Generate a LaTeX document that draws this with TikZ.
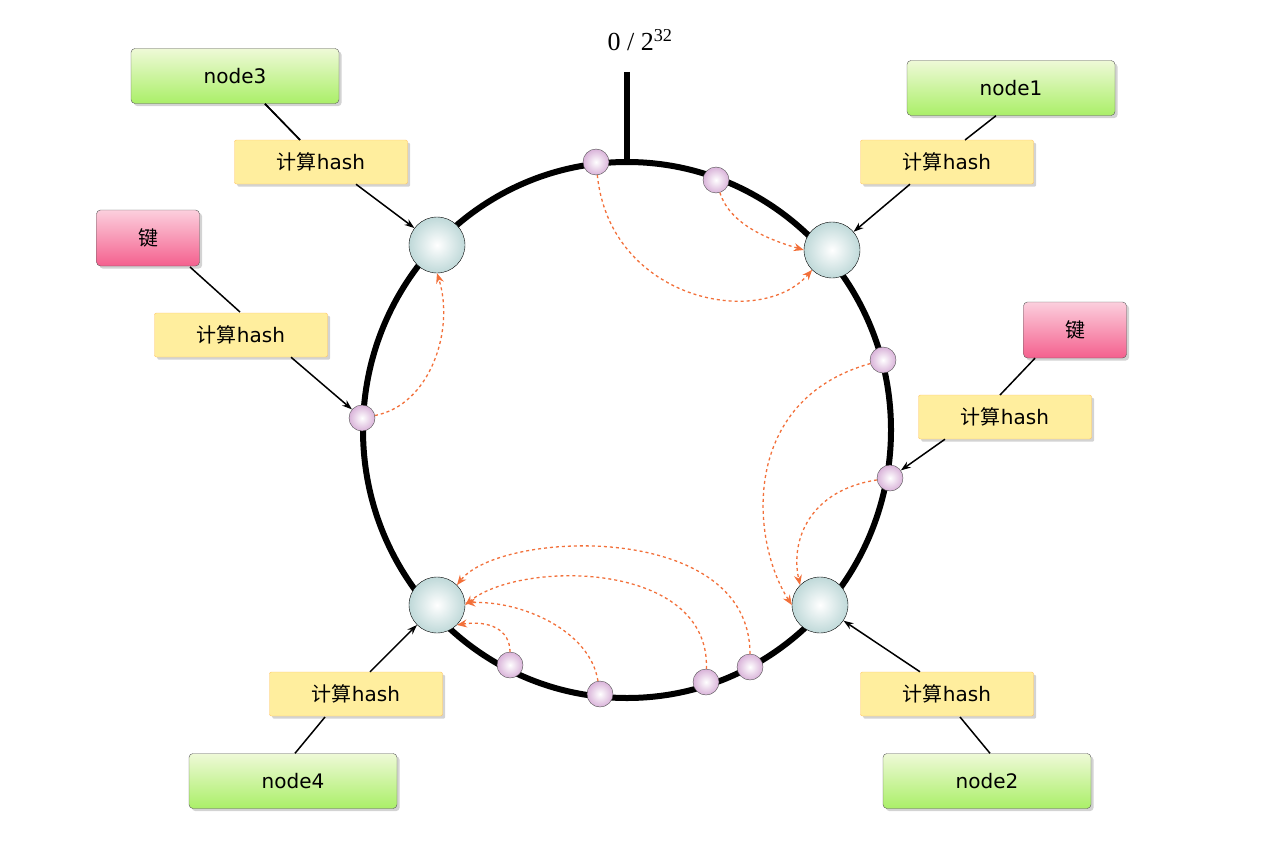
\documentclass[tikz,border=0pt]{standalone}
\usepackage{fontspec}
\setmainfont{DejaVu Sans}
\newfontfamily\cjk{Noto Sans CJK SC}
\newfontfamily\serif{Liberation Serif}
\usetikzlibrary{shadows,arrows.meta}
\definecolor{gfill}{HTML}{C8EC7A}
\definecolor{yfill}{HTML}{FFEE9E}
\definecolor{pfill}{HTML}{F4608E}
\definecolor{org}{HTML}{F2703A}
\begin{document}
\begin{tikzpicture}[x=1pt,y=-1pt,
 nbox/.style={draw=gray!70!black,rounded corners=4pt,minimum width=208pt,minimum height=55pt,top color=white!70!gfill,bottom color=gfill!85!green,font=\fontsize{20}{24}\selectfont,drop shadow={opacity=0.35}},
 hbox/.style={draw=yfill!60!orange,rounded corners=2pt,minimum width=173pt,minimum height=44pt,fill=yfill,font=\fontsize{20}{24}\selectfont,drop shadow={opacity=0.35}},
 kbox/.style={draw=gray!70!black,rounded corners=4pt,minimum width=103pt,minimum height=56pt,top color=pfill!30,bottom color=pfill,font=\cjk\fontsize{20}{24}\selectfont,drop shadow={opacity=0.35}},
 srv/.style={circle,draw=black,minimum size=56pt,inner sep=0pt,inner color=white,outer color=cyan!25!gray!40},
 pt/.style={circle,draw=gray!60!black,minimum size=26pt,inner sep=0pt,inner color=white,outer color=violet!30},
 blk/.style={black,line width=1.5pt},
 ar/.style={blk,-{Stealth[length=10pt,width=7pt]}},
 oa/.style={org,dashed,line width=1.3pt,-{Stealth[length=10pt,width=8pt]}}]
\useasboundingbox (0,0) rectangle (1266,867);
\draw[line width=6pt] (627,430) ellipse[x radius=264,y radius=268];
\draw[line width=6pt] (627,72) -- (627,162);
\node (lbl) at (640,40) {\serif\fontsize{26}{30}\selectfont 0 / 2\textsuperscript{32}};
% servers
\node[srv] (s3) at (437,245) {};
\node[srv] (s1) at (832,250) {};
\node[srv] (s4) at (437,605) {};
\node[srv] (s2) at (820,605) {};
% points
\node[pt] (p1) at (596,162) {};
\node[pt] (p2) at (716,180) {};
\node[pt] (p3) at (883,360) {};
\node[pt] (p4) at (890,478) {};
\node[pt] (p5) at (362,418) {};
\node[pt] (p6) at (510,665) {};
\node[pt] (p7) at (600,694) {};
\node[pt] (p8) at (706,682) {};
\node[pt] (p9) at (750,667) {};
% boxes
\node[nbox] (n3) at (235,76) {node3};
\node[hbox] (h3) at (321,162) {{\cjk 计算}hash};
\node[kbox] (k1) at (148,238) {键};
\node[hbox] (hk1) at (241,335) {{\cjk 计算}hash};
\node[nbox] (n1) at (1011,88) {node1};
\node[hbox] (h1) at (947,162) {{\cjk 计算}hash};
\node[kbox] (k2) at (1075,330) {键};
\node[hbox] (hk2) at (1005,417) {{\cjk 计算}hash};
\node[hbox] (h4) at (356,694) {{\cjk 计算}hash};
\node[nbox] (n4) at (293,781) {node4};
\node[hbox] (h2) at (947,694) {{\cjk 计算}hash};
\node[nbox] (n2) at (987,781) {node2};
% black connectors
\draw[blk] (n3.south)++(30,0) coordinate(a) (a) -- (h3.north west -| 300,0) ;
\draw[blk] (265,104) -- (300,140);
\draw[ar] (h3.south) ++(35,0) -- (s3);
\draw[blk] (190,267) -- (240,312);
\draw[ar] (hk1.south) ++(50,0) -- (p5);
\draw[blk] (n1.south) ++(-15,0) -- (965,140);
\draw[ar] (h1.south) ++(-37,0) -- (s1);
\draw[blk] (k2.south) ++(-40,0) -- (1000,395);
\draw[ar] (hk2.south) ++(-60,0) -- (p4);
\draw[blk] (n4.north) ++(2,0) -- (325,717);
\draw[ar] (h4.north) ++(14,0) -- (s4);
\draw[blk] (n2.north) ++(3,0) -- (960,717);
\draw[ar] (h2.north) ++(-27,0) -- (s2);
% orange dashed
\draw[oa] (p1) .. controls (610,300) and (760,330) .. (s1.south west);
\draw[oa] (p2) .. controls (730,225) and (770,240) .. (s1.west);
\draw[oa] (p5) .. controls (430,405) and (455,330) .. (s3.south);
\draw[oa] (p3) .. controls (740,400) and (750,540) .. (s2.west);
\draw[oa] (p4) .. controls (810,490) and (790,540) .. (s2.north west);
\draw[oa] (p9) .. controls (750,520) and (500,530) .. (s4.north east);
\draw[oa] (p8) .. controls (710,560) and (520,560) .. (s4.east);
\draw[oa] (p7) .. controls (590,630) and (520,600) .. ([yshift=2pt]s4.east);
\draw[oa] (p6) .. controls (510,630) and (490,620) .. (s4.south east);
\end{tikzpicture}
\end{document}
